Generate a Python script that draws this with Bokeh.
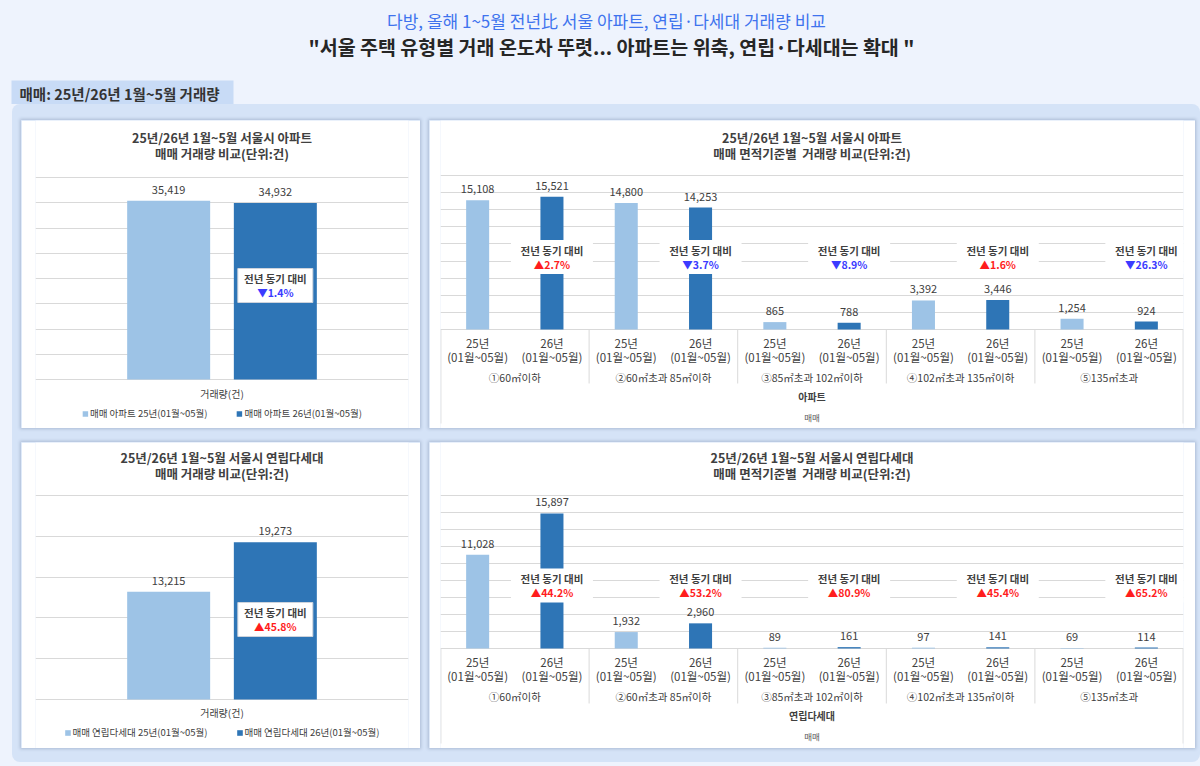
from bokeh.plotting import figure
from bokeh.layouts import column, row
from bokeh.models import (FactorRange, Range1d, ColumnDataSource, FixedTicker, Grid,
                          Legend, LegendItem)
from bokeh.transform import dodge
from bokeh.core.properties import value
from bokeh.embed import file_html
from bokeh.resources import INLINE

# ---------------- data ----------------
header_title = "다방, 올해 1~5월 전년比 서울 아파트, 연립·다세대 거래량 비교"
header_subtitle = "\"서울 주택 유형별 거래 온도차 뚜렷... 아파트는 위축, 연립·다세대는 확대 \""
tab_label = "매매: 25년/26년 1월~5월 거래량"

years = ["25년", "26년"]
period = "(01월~05월)"
size_groups = ["①60㎡이하", "②60㎡초과 85㎡이하", "③85㎡초과 102㎡이하",
               "④102㎡초과 135㎡이하", "⑤135㎡초과"]
total_category = "거래량(건)"

apt_total = [35419, 34932]
villa_total = [13215, 19273]
apt_25 = [15108, 14800, 865, 3392, 1254]
apt_26 = [15521, 14253, 788, 3446, 924]
villa_25 = [11028, 1932, 89, 97, 69]
villa_26 = [15897, 2960, 161, 141, 114]

apt_legend = ["매매 아파트 25년(01월~05월)", "매매 아파트 26년(01월~05월)"]
villa_legend = ["매매 연립다세대 25년(01월~05월)", "매매 연립다세대 26년(01월~05월)"]
apt_total_titles = ["25년/26년 1월~5월 서울시 아파트", "매매 거래량 비교(단위:건)"]
villa_total_titles = ["25년/26년 1월~5월 서울시 연립다세대", "매매 거래량 비교(단위:건)"]
apt_size_titles = ["25년/26년 1월~5월 서울시 아파트", "매매 면적기준별\u00a0 거래량 비교(단위:건)"]
villa_size_titles = ["25년/26년 1월~5월 서울시 연립다세대", "매매 면적기준별\u00a0 거래량 비교(단위:건)"]
change_caption = "전년 동기 대비"

# ---------------- style ----------------
FONT = value("Noto Sans CJK KR")
PAGE_BG = "#eef3fd"
BODY_BG = "#d5e3f7"
TAB_BG = "#c8dbf6"
LIGHT = "#9dc3e6"
DARK = "#2e75b6"
TEXT = "#404040"
GRID = "#d9d9d9"
UP = "#ff1d1d"
DOWN = "#3b3bff"
SHADOW = {"box-shadow": "0 0 3px 1px rgba(70,90,130,0.28)"}


def change_label(a, b):
    ch = (b / a - 1) * 100
    return ("▲" if ch >= 0 else "▼") + f"{abs(ch):.1f}%", (UP if ch >= 0 else DOWN)


def base_fig(width, height, x_range, y_range, left, right):
    p = figure(width=width, height=height, x_range=x_range, y_range=y_range,
               x_axis_location=None, y_axis_location=None, toolbar_location=None,
               title=None, output_backend="svg",
               min_border_left=left, min_border_right=right,
               min_border_top=0, min_border_bottom=0,
               background_fill_color="white", border_fill_color="white",
               outline_line_color=None, styles=SHADOW)
    p.grid.visible = False
    return p


def add_grid(p, ticks):
    p.add_layout(Grid(dimension=1, ticker=FixedTicker(ticks=ticks),
                      grid_line_color=GRID, grid_line_width=1))


def put_text(p, src, x, y, text, size, color=TEXT, bold=False, yoff=0):
    p.text(x=x, y=y, text=text, source=src, y_offset=yoff,
           text_align="center", text_baseline="middle",
           text_font=FONT, text_font_size=size, text_color=color,
           text_font_style="bold" if bold else "normal")


def total_panel(titles, totals, names, ymax, ystep, height, px_top, px_base, px_box,
                px_cat, title_offs, legend_margin):
    upp = ymax / (px_base - px_top)
    y_end = ymax + px_top * upp
    p = base_fig(399, height, FactorRange(factors=[total_category]),
                 Range1d(-(height - px_base) * upp, y_end), 14, 12)
    add_grid(p, list(range(0, ymax + 1, ystep)))

    for i in range(2):
        s = ColumnDataSource(dict(x=[total_category], y=[y_end], t=[titles[i]]))
        put_text(p, s, "x", "y", "t", "12.5px", bold=True, yoff=title_offs[i])

    offs = [-0.143, 0.143]
    colors = [LIGHT, DARK]
    items = []
    for i in range(2):
        src = ColumnDataSource(dict(cat=[total_category], v=[totals[i]],
                                    lbl=[f"{totals[i]:,}"]))
        xs = dodge("cat", offs[i], range=p.x_range)
        r = p.vbar(x=xs, top="v", width=0.2225, source=src,
                   fill_color=colors[i], line_color=None)
        put_text(p, src, xs, "v", "lbl", "11px", yoff=-11)
        items.append(LegendItem(label=names[i], renderers=[r]))

    lbl, col = change_label(*totals)
    bsrc = ColumnDataSource(dict(cat=[total_category], y=[(px_base - px_box) * upp],
                                 cap=[change_caption], pct=[lbl]))
    xs = dodge("cat", offs[1], range=p.x_range)
    p.rect(x=xs, y="y", width=75, height=34, width_units="screen", height_units="screen",
           source=bsrc, fill_color="white", line_color="#cdd3dc")
    put_text(p, bsrc, xs, "y", "cap", "10.5px", bold=True, yoff=-7)
    put_text(p, bsrc, xs, "y", "pct", "10.5px", color=col, bold=True, yoff=7)

    csrc = ColumnDataSource(dict(x=[total_category], y=[0], t=[total_category]))
    put_text(p, csrc, "x", "y", "t", "10px", yoff=px_cat)

    legend = Legend(items=items, location="bottom_center", orientation="horizontal",
                    label_text_font="Noto Sans CJK KR", label_text_font_size="9.5px",
                    label_text_color=TEXT, glyph_width=7, glyph_height=7,
                    label_height=12, label_standoff=2, spacing=28, padding=0,
                    margin=legend_margin, border_line_alpha=0, background_fill_alpha=0)
    p.add_layout(legend)
    return p


def size_panel(titles, outer, v25, v26, ymax, ystep, height, px_top, px_base, px_box,
               title_offs, sep_px, outer_px):
    upp = ymax / (px_base - px_top)
    y_end = ymax + px_top * upp
    factors = [(g, y) for g in size_groups for y in years]
    xr = FactorRange(factors=factors, factor_padding=0, group_padding=0, range_padding=0)
    p = base_fig(766, height, xr, Range1d(-(height - px_base) * upp, y_end), 11, 12)
    add_grid(p, list(range(0, ymax + 1, ystep)))

    mid = size_groups[2]
    for i in range(2):
        s = ColumnDataSource(dict(x=[mid], y=[y_end], t=[titles[i]]))
        put_text(p, s, "x", "y", "t", "12.5px", bold=True, yoff=title_offs[i])

    for yi, (vals, col) in enumerate([(v25, LIGHT), (v26, DARK)]):
        src = ColumnDataSource(dict(x=[(g, years[yi]) for g in size_groups], v=vals,
                                    lbl=[f"{v:,}" for v in vals]))
        p.vbar(x="x", top="v", width=0.31, source=src, fill_color=col, line_color=None)
        put_text(p, src, "x", "v", "lbl", "11px", yoff=-11)

    labs = [change_label(a, b) for a, b in zip(v25, v26)]
    bsrc = ColumnDataSource(dict(x=[(g, years[1]) for g in size_groups],
                                 y=[(px_base - px_box) * upp] * len(size_groups),
                                 cap=[change_caption] * len(size_groups),
                                 pct=[l for l, c in labs], col=[c for l, c in labs]))
    p.rect(x="x", y="y", width=82, height=34, width_units="screen", height_units="screen",
           source=bsrc, fill_color="white", line_color=None)
    put_text(p, bsrc, "x", "y", "cap", "10.5px", bold=True, yoff=-7)
    p.text(x="x", y="y", text="pct", source=bsrc, y_offset=7, text_align="center",
           text_baseline="middle", text_font=FONT, text_font_size="10.5px",
           text_color="col", text_font_style="bold")

    # category axis labels
    ysrc = ColumnDataSource(dict(x=factors, y=[0] * len(factors),
                                 yr=[y for g, y in factors], per=[period] * len(factors)))
    put_text(p, ysrc, "x", "y", "yr", "11.5px", yoff=13)
    put_text(p, ysrc, "x", "y", "per", "11.5px", yoff=27)
    gsrc = ColumnDataSource(dict(x=size_groups, y=[0] * len(size_groups), t=size_groups))
    put_text(p, gsrc, "x", "y", "t", "10.5px", yoff=48)
    put_text(p, ColumnDataSource(dict(x=[mid], y=[0], t=[outer])), "x", "y", "t", "10px",
             bold=True, yoff=67)
    put_text(p, ColumnDataSource(dict(x=[mid], y=[0], t=["매매"])), "x", "y", "t", "8.5px",
             color="#595959", yoff=87)

    # category separators
    sx = [(g, years[1], 0.5) for g in size_groups[:-1]]
    p.segment(x0=sx, x1=sx, y0=[0] * len(sx), y1=[-sep_px * upp] * len(sx),
              line_color=GRID, line_width=1)
    ex = [(size_groups[0], years[0], -0.495), (size_groups[-1], years[1], 0.495)]
    p.segment(x0=ex, x1=ex, y0=[0, 0], y1=[-outer_px * upp] * 2,
              line_color=GRID, line_width=1)
    return p


# ---------------- header ----------------
header = figure(width=1200, height=104, x_range=Range1d(0, 1200), y_range=Range1d(104, 0),
                x_axis_location=None, y_axis_location=None, toolbar_location=None,
                title=None, output_backend="svg", min_border=0,
                background_fill_color=PAGE_BG, border_fill_color=PAGE_BG,
                outline_line_color=None)
header.grid.visible = False
header.quad(left=[11], right=[233], top=[80], bottom=[104], fill_color=TAB_BG,
            line_color=None)
header.text(x=[606], y=[20], text=[header_title], text_align="center",
            text_baseline="middle", text_font=FONT, text_font_size="17px",
            text_color="#3f73ee")
header.text(x=[611], y=[46], text=[header_subtitle], text_align="center",
            text_baseline="middle", text_font=FONT, text_font_size="19.5px",
            text_font_style="bold", text_color="#262626")
header.text(x=[19], y=[93], text=[tab_label], text_align="left",
            text_baseline="middle", text_font=FONT, text_font_size="14.5px",
            text_font_style="bold", text_color="#333333")

# ---------------- panels ----------------
p_tl = total_panel(apt_total_titles, apt_total, apt_legend, 40000, 5000, 308,
                   57, 259, 165, 14, [17, 33], 8)
p_bl = total_panel(villa_total_titles, villa_total, villa_legend, 25000, 5000, 306,
                   53, 257, 177, 13, [15, 31], 9)
p_tr = size_panel(apt_size_titles, "아파트", apt_25, apt_26, 18000, 2000, 308,
                  55, 209, 136.5, [17, 33], 54, 94)
p_br = size_panel(villa_size_titles, "연립다세대", villa_25, villa_26, 18000, 2000, 306,
                  53, 206, 143, [15, 31], 55, 95)

row1 = row(p_tl, p_tr, spacing=9, margin=(16, 5, 0, 9))
row2 = row(p_bl, p_br, spacing=9, margin=(14, 5, 14, 9))
body = column(row1, row2, spacing=0, margin=(0, 0, 4, 12),
              styles={"background-color": BODY_BG, "border-radius": "8px"})
root = column(header, body, spacing=0, styles={"background-color": PAGE_BG})

open("out.html", "w").write(file_html(root, INLINE))
